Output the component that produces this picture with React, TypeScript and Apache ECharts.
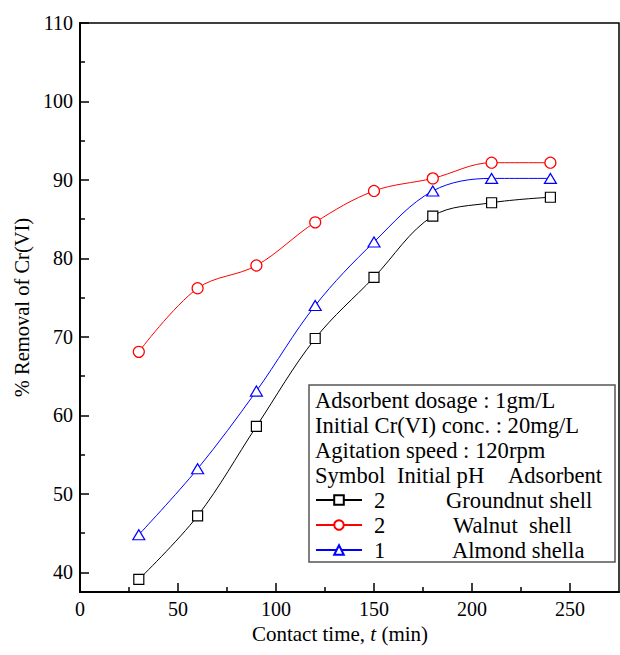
import React, { useEffect, useRef } from "react";
import * as echarts from "echarts";

const times = [30, 60, 90, 120, 150, 180, 210, 240];
const groundnut = [39.1, 47.2, 58.6, 69.8, 77.6, 85.4, 87.1, 87.8];
const walnut = [68.1, 76.2, 79.1, 84.6, 88.6, 90.2, 92.2, 92.2];
const almond = [44.8, 53.2, 63.1, 74.0, 82.1, 88.6, 90.2, 90.2];

const xMajorTicks = [0, 50, 100, 150, 200, 250];
const xMinorTicks = [25, 75, 125, 175, 225];
const yMajorTicks = [40, 50, 60, 70, 80, 90, 100, 110];
const yMinorTicks = [45, 55, 65, 75, 85, 95, 105];

const seriesNames = ["Groundnut shell", "Walnut  shell", "Almond shella"];
const initialPH = ["2", "2", "1"];
const conditions = [
  "Adsorbent dosage : 1gm/L",
  "Initial Cr(VI) conc. : 20mg/L",
  "Agitation speed : 120rpm",
];
const headers = ["Symbol", "Initial pH", "Adsorbent"];

const FONT = "Liberation Serif";

export default function App() {
  const ref = useRef<HTMLDivElement>(null);
  useEffect(() => {
    if (!ref.current) return;
    const chart = echarts.init(ref.current, undefined, { renderer: "svg" });
    const xMin = 0, xMax = 275, yMin = 37.5, yMax = 110;
    const pair = (ys: number[]) => times.map((t, i) => [t, ys[i]]);
    const colors = ["#000000", "#ff0000", "#0000ff"];
    const symbols = ["rect", "circle", "triangle"];
    const sizes: any[] = [10, 11, [12, 10]];
    const datas = [groundnut, walnut, almond];

    const LFS = 22.6;
    const legendText = { fontFamily: FONT, fontSize: LFS, color: "#000", lineHeight: 25 };
    const nameText = { fontFamily: FONT, fontSize: 21, color: "#000" };

    chart.setOption({
      animation: false,
      backgroundColor: "#fff",
      grid: {
        left: 80, top: 23, width: 539, height: 569,
        show: true, borderColor: "#000", borderWidth: 1.5, backgroundColor: "transparent",
      },
      xAxis: [
        {
          type: "value", min: xMin, max: xMax, position: "bottom",
          name: "{a|Contact time, }{b|t}{a| (min)}",
          nameLocation: "middle", nameGap: 30,
          nameTextStyle: {
            ...nameText,
            padding: [0, 19, 0, 0],
            rich: { a: { ...nameText }, b: { ...nameText, fontStyle: "italic" } },
          },
          axisLine: { show: true, onZero: false, lineStyle: { color: "#000", width: 2 } },
          axisTick: { show: true, inside: true, length: 9, customValues: xMajorTicks, lineStyle: { color: "#000", width: 1.5 } },
          axisLabel: { show: true, customValues: xMajorTicks, margin: 7, fontFamily: FONT, fontSize: 20, color: "#000" },
          splitLine: { show: false },
        },
        {
          type: "value", min: xMin, max: xMax, position: "bottom",
          axisLine: { show: false },
          axisTick: { show: true, inside: true, length: 5, customValues: xMinorTicks, lineStyle: { color: "#000", width: 1.5 } },
          axisLabel: { show: false },
          splitLine: { show: false },
        },
      ],
      yAxis: [
        {
          type: "value", min: yMin, max: yMax, position: "left",
          name: "% Removal of Cr(VI)",
          nameLocation: "middle", nameGap: 46,
          nameTextStyle: { fontFamily: FONT, fontSize: 20.5, color: "#000" },
          axisLine: { show: true, onZero: false, lineStyle: { color: "#000", width: 2 } },
          axisTick: { show: true, inside: true, length: 9, customValues: yMajorTicks, lineStyle: { color: "#000", width: 1.5 } },
          axisLabel: { show: true, customValues: yMajorTicks, margin: 7, fontFamily: FONT, fontSize: 20, color: "#000" },
          splitLine: { show: false },
        },
        {
          type: "value", min: yMin, max: yMax, position: "left",
          axisLine: { show: false },
          axisTick: { show: true, inside: true, length: 5, customValues: yMinorTicks, lineStyle: { color: "#000", width: 1.5 } },
          axisLabel: { show: false },
          splitLine: { show: false },
        },
      ],
      legend: {
        orient: "vertical",
        left: 315, top: 487.5,
        padding: 0,
        z: 20,
        itemWidth: 46, itemHeight: 12, itemGap: 0,
        selectedMode: false,
        data: seriesNames,
        formatter: (name: string) => {
          const i = seriesNames.indexOf(name);
          return `{p|${initialPH[i]}}{n${i}|${name}}`;
        },
        textStyle: {
          ...legendText,
          rich: {
            p: { ...legendText, width: 72, padding: [0, 0, 0, 7] },
            n0: { ...legendText },
            n1: { ...legendText, padding: [0, 0, 0, 7] },
            n2: { ...legendText, padding: [0, 0, 0, 6] },
          },
        },
      },
      graphic: [
        {
          type: "rect",
          shape: { x: 309, y: 385, width: 306, height: 177 },
          style: { fill: "#fff", stroke: "#555", lineWidth: 1.5 },
          z: 5,
        },
        ...conditions.map((c, i) => ({
          type: "text", x: 315, y: 400 + i * 25, z: 6,
          style: { text: c, fontFamily: FONT, fontSize: LFS, fill: "#000", verticalAlign: "middle" },
        })),
        ...headers.map((h, i) => ({
          type: "text", x: [315, 397, 508][i], y: 475, z: 6,
          style: { text: h, fontFamily: FONT, fontSize: LFS, fill: "#000", verticalAlign: "middle" },
        })),
      ],
      series: seriesNames.map((n, i) => ({
        name: n,
        type: "line",
        xAxisIndex: 0,
        yAxisIndex: 0,
        data: pair(datas[i]),
        smooth: 0.35,
        symbol: symbols[i],
        symbolSize: sizes[i],
        showAllSymbol: true,
        lineStyle: { color: colors[i], width: 1 },
        itemStyle: { color: "#fff", borderColor: colors[i], borderWidth: 1.2 },
        z: 3,
      })),
    });
    return () => chart.dispose();
  }, []);
  return (
    <div
      ref={ref}
      style={{ position: "absolute", left: 0, top: 0, width: 620, height: 655 }}
    />
  );
}
